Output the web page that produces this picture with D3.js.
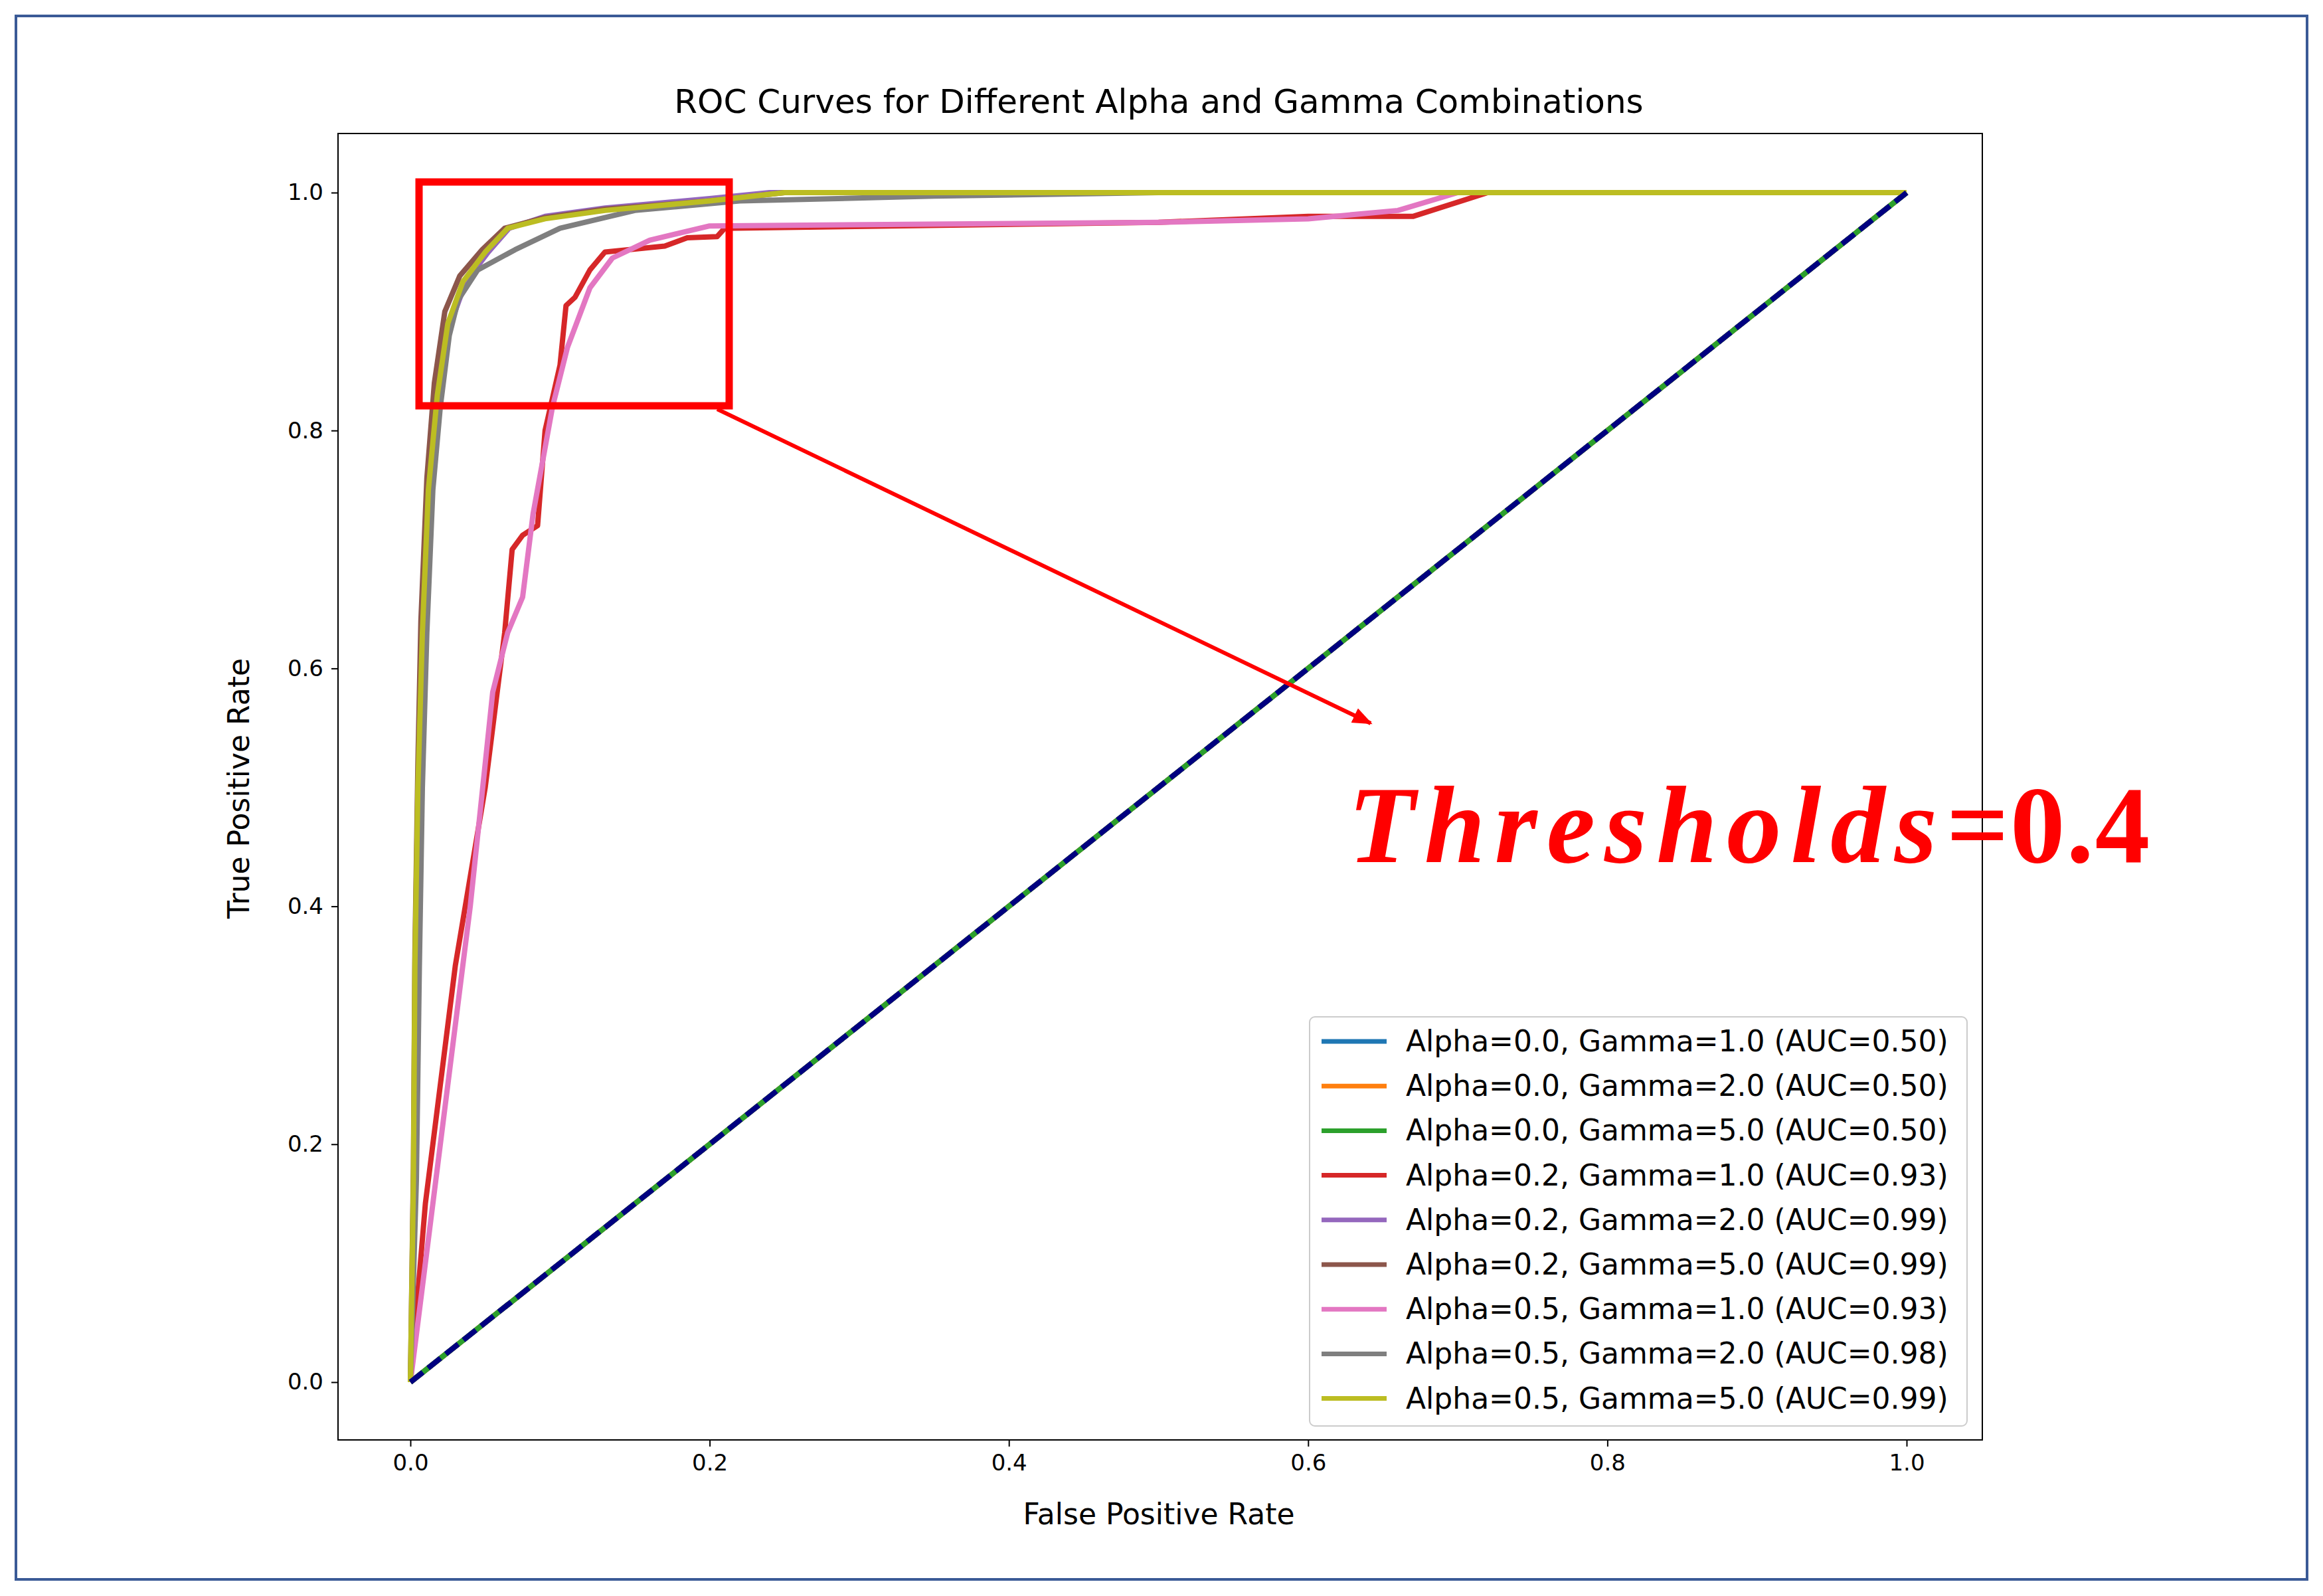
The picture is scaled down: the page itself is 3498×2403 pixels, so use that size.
<!DOCTYPE html>
<html><head><meta charset="utf-8">
<script src="https://cdn.jsdelivr.net/npm/d3@7"></script>
<style>body{margin:0;background:#fff}</style>
</head><body>
<script>
const xTicks=[0,0.2,0.4,0.6,0.8,1.0];
const yTicks=[0,0.2,0.4,0.6,0.8,1.0];
const seriesNames=["Alpha=0.0, Gamma=1.0 (AUC=0.50)","Alpha=0.0, Gamma=2.0 (AUC=0.50)","Alpha=0.0, Gamma=5.0 (AUC=0.50)","Alpha=0.2, Gamma=1.0 (AUC=0.93)","Alpha=0.2, Gamma=2.0 (AUC=0.99)","Alpha=0.2, Gamma=5.0 (AUC=0.99)","Alpha=0.5, Gamma=1.0 (AUC=0.93)","Alpha=0.5, Gamma=2.0 (AUC=0.98)","Alpha=0.5, Gamma=5.0 (AUC=0.99)"];
const seriesColors=["#1f77b4","#ff7f0e","#2ca02c","#d62728","#9467bd","#8c564b","#e377c2","#7f7f7f","#bcbd22"];
const diag=[[0,0],[1,1]];
const topCurve=[[0,0],[0.002,0.17],[0.003,0.35],[0.005,0.5],[0.008,0.63],[0.012,0.75],[0.018,0.83],[0.025,0.89],[0.035,0.925],[0.05,0.95],[0.065,0.97],[0.09,0.978],[0.13,0.985],[0.2,0.993],[0.25,1.0],[1,1]];
const brownCurve=[[0,0],[0.002,0.18],[0.003,0.36],[0.005,0.52],[0.007,0.64],[0.011,0.76],[0.016,0.84],[0.023,0.9],[0.033,0.93],[0.048,0.952],[0.063,0.97],[0.09,0.979],[0.13,0.986],[0.2,0.993],[0.25,1.0],[1,1]];
const purpleCurve=[[0,0],[0.003,0.17],[0.004,0.35],[0.006,0.5],[0.009,0.63],[0.013,0.75],[0.019,0.83],[0.027,0.89],[0.037,0.925],[0.052,0.95],[0.066,0.97],[0.09,0.98],[0.13,0.987],[0.2,0.995],[0.24,1.0],[1,1]];
const grayCurve=[[0,0],[0.004,0.17],[0.006,0.35],[0.008,0.5],[0.011,0.63],[0.015,0.75],[0.02,0.82],[0.026,0.88],[0.032,0.91],[0.045,0.935],[0.07,0.952],[0.1,0.97],[0.15,0.985],[0.22,0.993],[0.35,0.997],[0.5,1],[1,1]];
const redCurve=[[0,0],[0.01,0.15],[0.03,0.35],[0.05,0.5],[0.063,0.63],[0.068,0.7],[0.075,0.712],[0.085,0.72],[0.09,0.8],[0.1,0.855],[0.104,0.905],[0.11,0.912],[0.12,0.935],[0.13,0.95],[0.17,0.955],[0.185,0.962],[0.205,0.963],[0.21,0.97],[0.5,0.975],[0.6,0.98],[0.67,0.98],[0.72,1],[1,1]];
const pinkCurve=[[0,0],[0.02,0.2],[0.04,0.4],[0.055,0.58],[0.065,0.63],[0.075,0.66],[0.082,0.73],[0.095,0.82],[0.105,0.87],[0.12,0.92],[0.135,0.945],[0.16,0.96],[0.2,0.972],[0.5,0.975],[0.6,0.978],[0.66,0.985],[0.7,1],[1,1]];
const seriesData=[diag,diag,diag,redCurve,purpleCurve,brownCurve,pinkCurve,grayCurve,topCurve];

const W=3498,H=2403;
const svg=d3.select("body").append("svg").attr("width",W).attr("height",H).style("font-family","DejaVu Sans");
svg.append("rect").attr("x",24).attr("y",24).attr("width",3450).attr("height",2354).attr("fill","none").attr("stroke","#3a5a96").attr("stroke-width",4);
const x=d3.scaleLinear().domain([0,1]).range([618,2871]);
const y=d3.scaleLinear().domain([0,1]).range([2081,290]);
const pl={l:509,r:2985,t:201,b:2168};
const xa=svg.append("g").attr("transform",`translate(0,${pl.b})`).call(d3.axisBottom(x).tickValues(xTicks).tickFormat(d3.format(".1f")).tickSize(10).tickPadding(12));
const ya=svg.append("g").attr("transform",`translate(${pl.l},0)`).call(d3.axisLeft(y).tickValues(yTicks).tickFormat(d3.format(".1f")).tickSize(10).tickPadding(12));
[xa,ya].forEach(a=>{a.select(".domain").remove();a.selectAll("text").attr("font-size",34).attr("font-family","DejaVu Sans").attr("fill","#000");a.selectAll("line").attr("stroke","#000").attr("stroke-width",2);});
const clip=svg.append("clipPath").attr("id","c").append("rect").attr("x",pl.l).attr("y",pl.t).attr("width",pl.r-pl.l).attr("height",pl.b-pl.t);
const line=d3.line().x(d=>x(d[0])).y(d=>y(d[1]));
const g=svg.append("g").attr("clip-path","url(#c)");
seriesData.forEach((d,i)=>g.append("path").attr("d",line(d)).attr("fill","none").attr("stroke",seriesColors[i]).attr("stroke-width",8).attr("stroke-linejoin","round"));
g.append("path").attr("d",line(diag)).attr("fill","none").attr("stroke","#000080").attr("stroke-width",8).attr("stroke-dasharray","24,10");
svg.append("rect").attr("x",pl.l).attr("y",pl.t).attr("width",pl.r-pl.l).attr("height",pl.b-pl.t).attr("fill","none").attr("stroke","#000").attr("stroke-width",2);
svg.append("text").attr("x",1745).attr("y",170).attr("text-anchor","middle").attr("font-size",50).text("ROC Curves for Different Alpha and Gamma Combinations");
svg.append("text").attr("x",1745).attr("y",2295).attr("text-anchor","middle").attr("font-size",44).text("False Positive Rate");
svg.append("text").attr("transform","translate(375,1187) rotate(-90)").attr("text-anchor","middle").attr("font-size",44).text("True Positive Rate");
// legend
const lg=svg.append("g");
lg.append("rect").attr("x",1972).attr("y",1531).attr("width",990).attr("height",616).attr("rx",8).attr("fill","#fff").attr("fill-opacity",0.8).attr("stroke","#ccc").attr("stroke-width",2);
seriesNames.forEach((n,i)=>{const yy=1568+i*67.2;
 lg.append("line").attr("x1",1990).attr("x2",2088).attr("y1",yy).attr("y2",yy).attr("stroke",seriesColors[i]).attr("stroke-width",7);
 lg.append("text").attr("x",2117).attr("y",yy+15).attr("font-size",44).text(n);});
// annotation
svg.append("rect").attr("x",631).attr("y",274).attr("width",467).attr("height",337).attr("fill","none").attr("stroke","#ff0000").attr("stroke-width",11);
svg.append("defs").append("marker").attr("id","ah").attr("viewBox","0 0 10 10").attr("refX",9).attr("refY",5).attr("markerWidth",5).attr("markerHeight",5).attr("orient","auto").append("path").attr("d","M0,1L10,5L0,9z").attr("fill","#ff0000");
svg.append("line").attr("x1",1080).attr("y1",616).attr("x2",2064).attr("y2",1089).attr("stroke","#ff0000").attr("stroke-width",6).attr("marker-end","url(#ah)");
const t=svg.append("text").attr("x",2030).attr("y",1298).attr("font-family","Liberation Serif").attr("font-size",165).attr("fill","#ff0000").attr("font-weight","bold");
t.append("tspan").attr("font-style","italic").attr("letter-spacing",14).text("Thresholds");
t.append("tspan").attr("letter-spacing",2).text("=0.4");
</script>
</body></html>
